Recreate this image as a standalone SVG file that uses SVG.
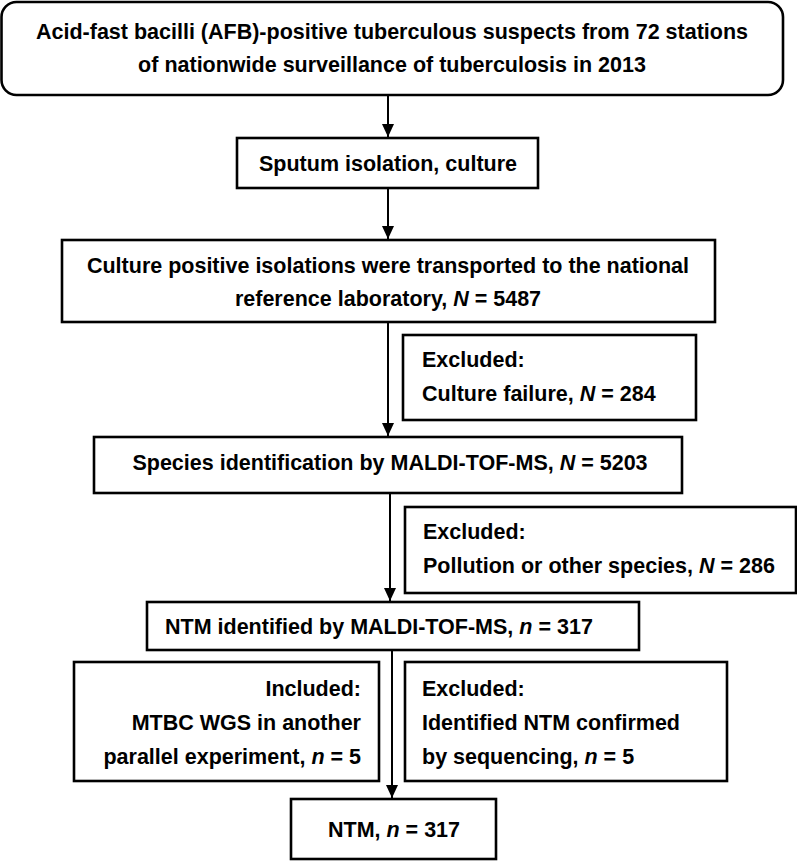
<svg xmlns="http://www.w3.org/2000/svg" width="797" height="864" viewBox="0 0 797 864">
<style>
.box{fill:#fff;stroke:#000;stroke-width:2.6}
.t{font-family:"Liberation Sans",Arial,sans-serif;font-weight:bold;font-size:21.5px;fill:#000}
.c{text-anchor:middle}
.r{text-anchor:end}
.i{font-style:italic}
.ln{stroke:#000;stroke-width:2;fill:none;marker-end:url(#ah)}
</style>
<defs>
<marker id="ah" viewBox="0 0 13 12" refX="13" refY="6" markerWidth="13" markerHeight="12" markerUnits="userSpaceOnUse" orient="auto">
<path d="M0,0 L13,6 L0,12 z" fill="#000"/>
</marker>
</defs>
<rect width="797" height="864" fill="#fff"/>
<g id="connectors">
<line class="ln" x1="388" y1="96" x2="388" y2="137"/>
<line class="ln" x1="388" y1="189" x2="388" y2="239"/>
<line class="ln" x1="388" y1="323" x2="388" y2="436"/>
<line class="ln" x1="390" y1="494" x2="390" y2="601"/>
<line class="ln" x1="392" y1="651" x2="392" y2="798"/>
</g>
<g id="n1">
<rect class="box" x="1.5" y="2" width="781.5" height="93" rx="15" ry="15"/>
<text class="t c" x="392" y="39">Acid-fast bacilli (AFB)-positive tuberculous suspects from 72 stations</text>
<text class="t c" x="392" y="72">of nationwide surveillance of tuberculosis in 2013</text>
</g>
<g id="n2">
<rect class="box" x="237" y="138" width="301" height="50"/>
<text class="t c" x="388" y="171">Sputum isolation, culture</text>
</g>
<g id="n3">
<rect class="box" x="62" y="240" width="653" height="82"/>
<text class="t c" x="388" y="273">Culture positive isolations were transported to the national</text>
<text class="t c" x="388" y="306">reference laboratory, <tspan class="i">N</tspan> = 5487</text>
</g>
<g id="n4">
<rect class="box" x="403" y="335" width="293" height="85"/>
<text class="t" x="422" y="367">Excluded:</text>
<text class="t" x="422" y="401">Culture failure, <tspan class="i">N</tspan> = 284</text>
</g>
<g id="n5">
<rect class="box" x="94" y="437" width="588" height="56"/>
<text class="t c" x="390" y="470">Species identification by MALDI-TOF-MS, <tspan class="i">N</tspan> = 5203</text>
</g>
<g id="n6">
<rect class="box" x="405" y="507" width="391" height="86"/>
<text class="t" x="423" y="539">Excluded:</text>
<text class="t" x="423" y="573">Pollution or other species, <tspan class="i">N</tspan> = 286</text>
</g>
<g id="n7">
<rect class="box" x="147" y="602" width="492" height="48"/>
<text class="t" x="165" y="634">NTM identified by MALDI-TOF-MS, <tspan class="i">n</tspan> = 317</text>
</g>
<g id="n8">
<rect class="box" x="74" y="662" width="305" height="119"/>
<text class="t r" x="361" y="696">Included:</text>
<text class="t r" x="361" y="730">MTBC WGS in another</text>
<text class="t r" x="361" y="764">parallel experiment, <tspan class="i">n</tspan> = 5</text>
</g>
<g id="n9">
<rect class="box" x="405" y="662" width="322" height="119"/>
<text class="t" x="422" y="696">Excluded:</text>
<text class="t" x="422" y="730">Identified NTM confirmed</text>
<text class="t" x="422" y="764">by sequencing, <tspan class="i">n</tspan> = 5</text>
</g>
<g id="n10">
<rect class="box" x="291" y="799" width="205" height="60"/>
<text class="t c" x="394" y="837">NTM, <tspan class="i">n</tspan> = 317</text>
</g>
</svg>
